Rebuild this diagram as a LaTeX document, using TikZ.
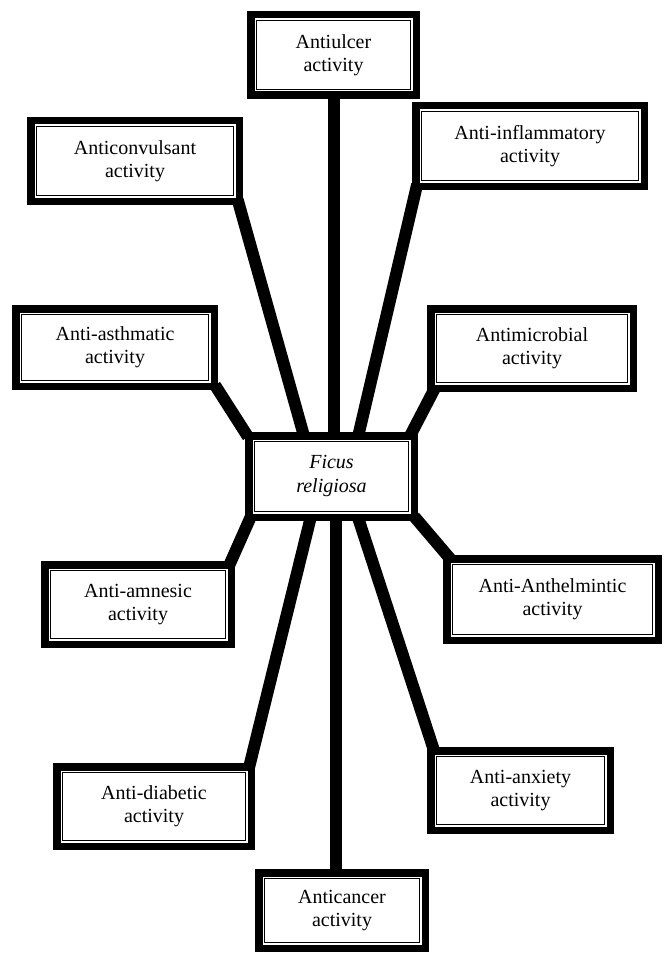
\documentclass[tikz,border=0pt]{standalone}
\usepackage{fontspec}
\setmainfont{Liberation Serif}
\usetikzlibrary{backgrounds}
\begin{document}
\begin{tikzpicture}[x=1pt,y=-1pt,
  actbox/.style={draw=none, fill=white, rectangle, inner sep=0pt, align=center,
    font=\fontsize{20}{23}\selectfont,
    path picture={
      \draw[line width=7.5pt] ([shift={(3.75pt,-3.75pt)}]path picture bounding box.north west) rectangle ([shift={(-3.75pt,3.75pt)}]path picture bounding box.south east);
      \draw[line width=1.4pt] ([shift={(9.6pt,-9.6pt)}]path picture bounding box.north west) rectangle ([shift={(-9.6pt,9.6pt)}]path picture bounding box.south east);
    }},
  conn/.style={line width=12pt, shorten <=-6pt, shorten >=-6pt}]
\useasboundingbox (0,0) rectangle (669,955);

\node[actbox, minimum width=173pt, minimum height=88pt] (ulcer) at (333.5,55) {Antiulcer\\activity};
\node[actbox, minimum width=216pt, minimum height=88pt] (conv) at (135,161) {Anticonvulsant\\activity};
\node[actbox, minimum width=236pt, minimum height=88pt] (infl) at (530,146) {Anti-inflammatory\\activity};
\node[actbox, minimum width=206pt, minimum height=85pt] (asth) at (115,347.5) {Anti-asthmatic\\activity};
\node[actbox, minimum width=210pt, minimum height=87pt] (micro) at (532,348.5) {Antimicrobial\\activity};
\node[actbox, minimum width=173pt, minimum height=89pt, font=\fontsize{20}{24}\selectfont\itshape] (ficus) at (331.5,476.5) {Ficus\\religiosa};
\node[actbox, minimum width=194pt, minimum height=87pt] (amn) at (138,604.5) {Anti-amnesic\\activity};
\node[actbox, minimum width=219pt, minimum height=89pt] (anth) at (552.5,599.5) {Anti-Anthelmintic\\activity};
\node[actbox, minimum width=202pt, minimum height=87pt] (diab) at (154,806.5) {Anti-diabetic\\activity};
\node[actbox, minimum width=187pt, minimum height=87pt] (anx) at (520.5,790.5) {Anti-anxiety\\activity};
\node[actbox, minimum width=174pt, minimum height=83pt] (canc) at (342,910.5) {Anticancer\\activity};

\begin{scope}[on background layer]
\fill[white] (0,0) rectangle (669,955);
\draw[conn] (ulcer.south) -- (ulcer.south |- ficus.north);
\draw[conn] ([xshift=-4pt]conv.south east) -- ([xshift=58pt]ficus.north west);
\draw[conn] ([xshift=4pt]infl.south west) -- ([xshift=-59pt]ficus.north east);
\draw[conn] (asth.south east) -- (ficus.north west);
\draw[conn] ([xshift=6pt]micro.south west) -- ([xshift=-6pt]ficus.north east);
\draw[conn] ([xshift=4pt]ficus.south west) -- ([xshift=-4pt]amn.north east);
\draw[conn] (ficus.south east) -- ([xshift=4pt]anth.north west);
\draw[conn] ([xshift=65pt]ficus.south west) -- ([xshift=-5pt]diab.north east);
\draw[conn] ([xshift=-59pt]ficus.south east) -- ([xshift=6pt]anx.north west);
\draw[conn] ([xshift=-6pt]canc.north) -- ([xshift=-6pt]canc.north |- ficus.south);
\end{scope}
\end{tikzpicture}
\end{document}
